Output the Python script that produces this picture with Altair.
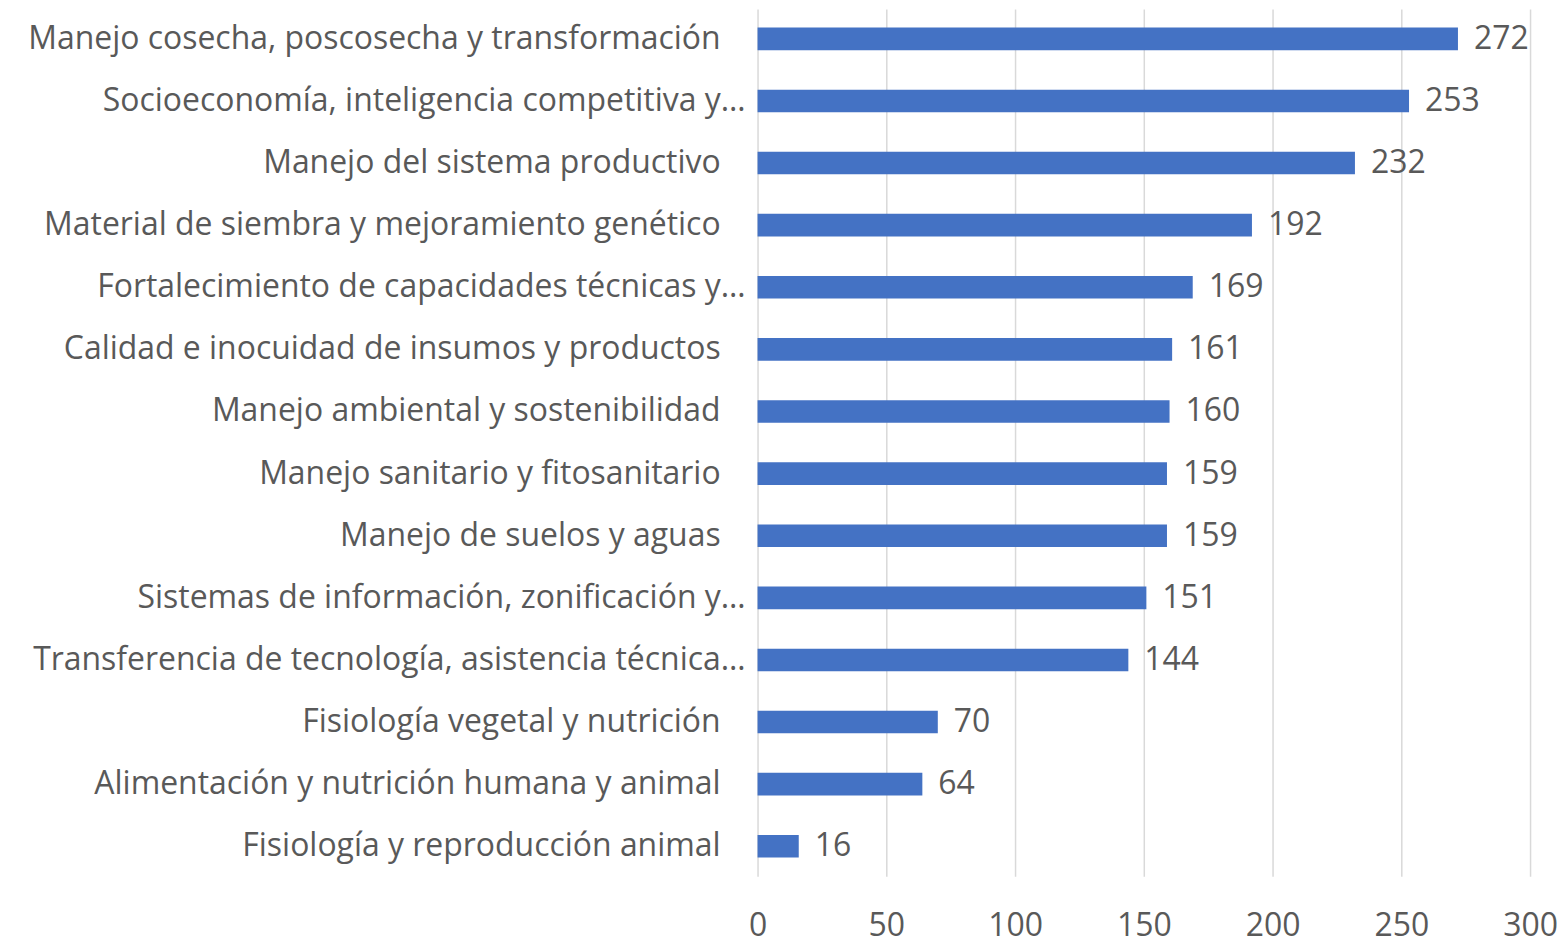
import altair as alt
import pandas as pd

categories = [
    "Manejo cosecha, poscosecha y transformación",
    "Socioeconomía, inteligencia competitiva y…",
    "Manejo del sistema productivo",
    "Material de siembra y mejoramiento genético",
    "Fortalecimiento de capacidades técnicas y…",
    "Calidad e inocuidad de insumos y productos",
    "Manejo ambiental y sostenibilidad",
    "Manejo sanitario y fitosanitario",
    "Manejo de suelos y aguas",
    "Sistemas de información, zonificación y…",
    "Transferencia de tecnología, asistencia técnica…",
    "Fisiología vegetal y nutrición",
    "Alimentación y nutrición humana y animal",
    "Fisiología y reproducción animal",
]
values = [272, 253, 232, 192, 169, 161, 160, 159, 159, 151, 144, 70, 64, 16]
x_ticks = [0, 50, 100, 150, 200, 250, 300]

df = pd.DataFrame({"cat": categories, "val": values})

FONT = "Open Sans"
TXT = "#595959"
FS = 32

y_enc = alt.Y("cat:N", sort=categories, title=None,
              scale=alt.Scale(paddingInner=0.636, paddingOuter=0.3),
              axis=alt.Axis(labels=False, ticks=False, domain=False, grid=False))
x_enc = alt.X("val:Q", title=None,
              scale=alt.Scale(domain=[0, 300], nice=False),
              axis=alt.Axis(values=x_ticks, ticks=False, domain=False,
                            grid=True, gridColor="#d9d9d9", gridWidth=1.5,
                            labelFlush=False,
                            labelFont=FONT, labelFontSize=FS, labelColor=TXT,
                            labelPadding=34))

bars = alt.Chart(df).mark_bar(color="#4472C4").encode(x=x_enc, y=y_enc)

vals = alt.Chart(df).mark_text(align="left", baseline="middle", dx=16,
                               font=FONT, fontSize=FS, color=TXT).encode(
    x="val:Q", y=alt.Y("cat:N", sort=categories), text="val:Q")

base_lbl = alt.Chart(df).transform_calculate(
    trunc="indexof(datum.cat, '…') >= 0")

lbl_full = base_lbl.transform_filter("!datum.trunc").mark_text(
    align="right", baseline="middle", dx=-37,
    font=FONT, fontSize=FS, color=TXT).encode(
    x=alt.value(0), y=alt.Y("cat:N", sort=categories), text="cat:N")

lbl_trunc = base_lbl.transform_filter("datum.trunc").mark_text(
    align="right", baseline="middle", dx=-12,
    font=FONT, fontSize=FS, color=TXT).encode(
    x=alt.value(0), y=alt.Y("cat:N", sort=categories), text="cat:N")

chart = alt.layer(bars, vals, lbl_full, lbl_trunc).properties(
    width=774, height=869,
    background="white",
    autosize=alt.AutoSizeParams(type="none"),
    padding={"left": 751, "top": 0, "right": 28, "bottom": 62},
).configure_view(stroke=None)

chart.save("out.html", embed_options={"renderer": "svg", "actions": False})
